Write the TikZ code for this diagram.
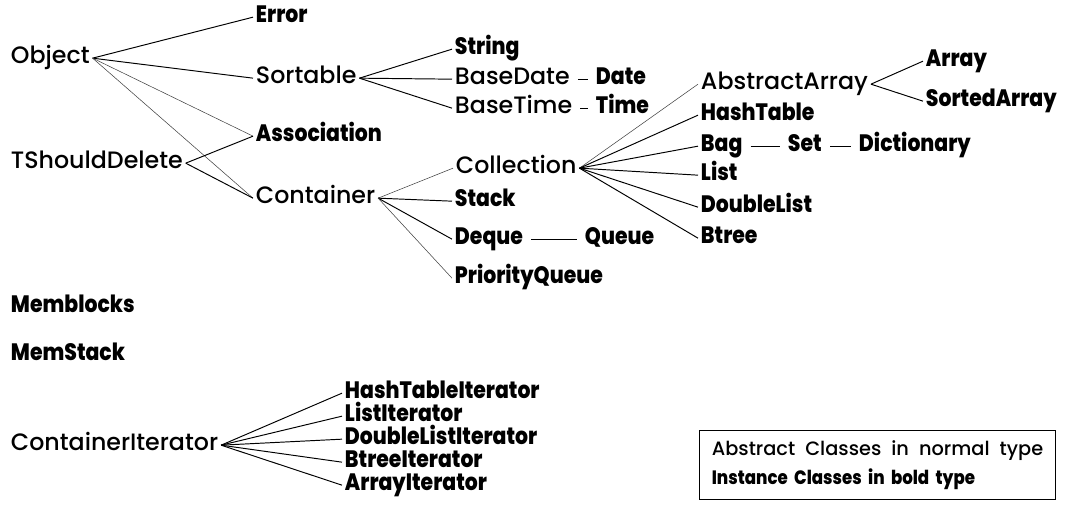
\documentclass[tikz,border=0pt]{standalone}
\usepackage{fontspec}
\setmainfont{Poppins}[UprightFont={* Medium}, BoldFont={* ExtraBold},
    BoldFeatures={FakeStretch=0.86}]
\usetikzlibrary{positioning}

\begin{document}
\begin{tikzpicture}[x=0.02cm, y=-0.02cm,
		every edge/.style = {draw=black, line width=0.55pt},
		abst/.style = {anchor=base west, inner xsep=1.5pt, inner ysep=0pt,
		    font=\fontsize{13.5}{16}\selectfont},
		inst/.style = {abst, font=\fontsize{13.5}{16}\selectfont\bfseries},
		faint/.style = {draw=black!75, line width=0.3pt},
		rule/.style = {shorten <=3pt, shorten >=3pt}
                    ]
		\useasboundingbox (0,0) rectangle (1066,505);

		% roots
		\node(obj) [abst] at (8,63)   {Object};
		\node(tsd) [abst] at (8,168)  {TShouldDelete};
		\node(mbl) [inst] at (8,312)  {Memblocks};
		\node(mst) [inst] at (8,360)  {MemStack};
		\node(cit) [abst] at (8,450)  {ContainerIterator};

		% second level
		\node(err) [inst] at (253,22)  {Error};
		\node(srt) [abst] at (253,83)  {Sortable};
		\node(asc) [inst] at (253,141) {Association};
		\node(cnt) [abst] at (253,203) {Container};

		\node(str) [inst] at (452,54)  {String};
		\node(bdt) [abst] at (452,84)  {BaseDate};
		\node(dat) [inst] at (593,84)  {Date};
		\node(btm) [abst] at (452,113) {BaseTime};
		\node(tim) [inst] at (593,113) {Time};

		\node(col) [abst] at (453,173) {Collection};
		\node(stk) [inst] at (452,206) {Stack};
		\node(deq) [inst] at (452,244) {Deque};
		\node(que) [inst] at (582,244) {Queue};
		\node(prq) [inst] at (452,283) {PriorityQueue};

		\node(aar) [abst] at (698,89)  {AbstractArray};
		\node(arr) [inst] at (923,66)  {Array};
		\node(sar) [inst] at (923,106) {SortedArray};
		\node(hsh) [inst] at (698,120) {HashTable};
		\node(bag) [inst] at (698,151) {Bag};
		\node(set) [inst] at (785,151) {Set};
		\node(dct) [inst] at (856,151) {Dictionary};
		\node(lst) [inst] at (698,180) {List};
		\node(dls) [inst] at (698,212) {DoubleList};
		\node(btr) [inst] at (698,243) {Btree};

		% iterators
		\node(hti) [inst] at (342,398) {HashTableIterator};
		\node(lti) [inst] at (342,421) {ListIterator};
		\node(dli) [inst] at (342,444) {DoubleListIterator};
		\node(bti) [inst] at (342,467) {BtreeIterator};
		\node(ari) [inst] at (342,490) {ArrayIterator};

		% legend
		\node(key) [draw, line width=0.6pt, anchor=north east, align=left,
		    inner xsep=7pt, inner ysep=6pt, font=\fontsize{11}{16}\selectfont]
		    at (1056,430) {Abstract\ \ Classes\ \ in\ \ normal\ \ type\\
		    \textbf{Instance\ \ Classes\ \ in\ \ bold\ \ type}};

		\path   (obj.mid east) edge (err.mid west)
		        (obj.mid east) edge (srt.mid west)
		        (obj.mid east) edge [faint] (asc.mid west)
		        (obj.mid east) edge [faint] (cnt.mid west)
		        (tsd.mid east) edge (asc.mid west)
		        (tsd.mid east) edge (cnt.mid west);

		\path   (srt.mid east) edge (str.mid west)
		        (srt.mid east) edge (bdt.mid west)
		        (srt.mid east) edge (btm.mid west)
		        (bdt.mid east) edge [rule] (dat.mid west)
		        (btm.mid east) edge [rule] (tim.mid west);

		\path   (cnt.mid east) edge [faint] (col.mid west)
		        (cnt.mid east) edge (stk.mid west)
		        (cnt.mid east) edge (deq.mid west)
		        (cnt.mid east) edge [faint] (prq.mid west)
		        (deq.mid east) edge [rule] (que.mid west);

		\path   (col.mid east) edge [faint] (aar.mid west)
		        (col.mid east) edge (hsh.mid west)
		        (col.mid east) edge (bag.mid west)
		        (col.mid east) edge (lst.mid west)
		        (col.mid east) edge (dls.mid west)
		        (col.mid east) edge (btr.mid west)
		        (aar.mid east) edge (arr.mid west)
		        (aar.mid east) edge (sar.mid west)
		        (bag.mid east) edge [rule] (set.mid west)
		        (set.mid east) edge [rule] (dct.mid west);

		\path   (cit.mid east) edge (hti.mid west)
		        (cit.mid east) edge (lti.mid west)
		        (cit.mid east) edge (dli.mid west)
		        (cit.mid east) edge (bti.mid west)
		        (cit.mid east) edge (ari.mid west);
	\end{tikzpicture}
\end{document}
